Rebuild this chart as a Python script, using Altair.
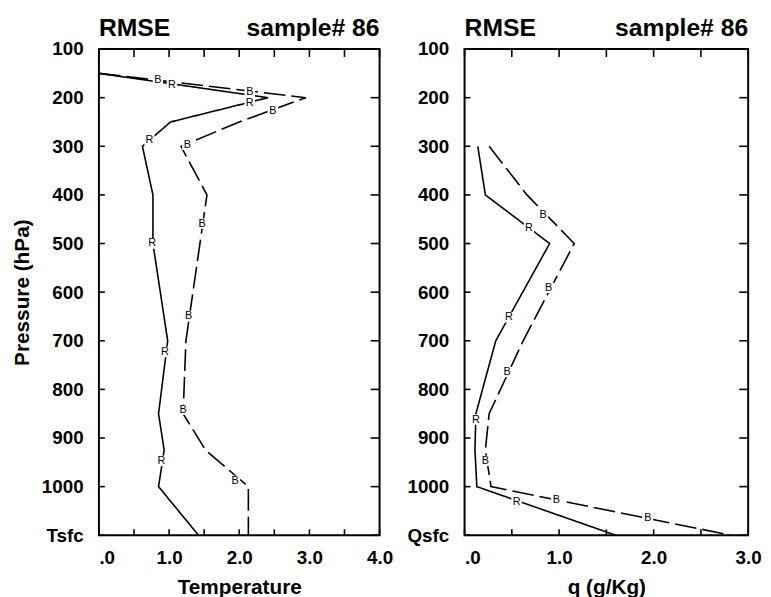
import altair as alt
import pandas as pd

# ---------------- data ----------------
levels_T = [150, 200, 250, 300, 400, 500, 700, 850, 925, 1000, 1100]
rmse_R_T = [0.00, 2.41, 1.02, 0.62, 0.77, 0.77, 0.98, 0.85, 0.93, 0.85, 1.42]
rmse_B_T = [0.00, 2.95, 2.00, 1.17, 1.54, 1.44, 1.24, 1.20, 1.52, 2.13, 2.13]

levels_q = [300, 400, 500, 700, 850, 925, 1000, 1100]
rmse_R_q = [0.14, 0.22, 0.90, 0.33, 0.12, 0.11, 0.13, 1.60]
rmse_B_q = [0.26, 0.66, 1.16, 0.62, 0.26, 0.22, 0.28, 2.82]

# letter markers along the curves (pressure, value)
lab_T_R_p = [175, 212, 287, 500, 723, 947]
lab_T_R_x = [1.04, 2.15, 0.72, 0.76, 0.94, 0.89]
lab_T_B_p = [164, 188, 227, 297, 459, 649, 842, 988]
lab_T_B_x = [0.84, 2.15, 2.48, 1.26, 1.47, 1.28, 1.20, 1.94]

lab_q_R_p = [469, 652, 862, 1032]
lab_q_R_x = [0.68, 0.47, 0.12, 0.55]
lab_q_B_p = [442, 591, 764, 947, 1028, 1065]
lab_q_B_x = [0.83, 0.89, 0.45, 0.22, 0.97, 1.94]

# axis ticks
y_levels = [100, 200, 300, 400, 500, 600, 700, 800, 900, 1000, 1100]
x_ticks_T = [0.0, 0.5, 1.0, 1.5, 2.0, 2.5, 3.0, 3.5, 4.0]
x_ticks_q = [0.0, 0.5, 1.0, 1.5, 2.0, 2.5, 3.0]

FONT = "Liberation Sans"
HEIGHT = 492


def lines_df(levels, r, b):
    rows = [{"level": l, "value": v, "series": "R"} for l, v in zip(levels, r)]
    rows += [{"level": l, "value": v, "series": "B"} for l, v in zip(levels, b)]
    return pd.DataFrame(rows)


def labels_df(rp, rx, bp, bx):
    rows = [{"level": l, "value": v, "series": "R"} for l, v in zip(rp, rx)]
    rows += [{"level": l, "value": v, "series": "B"} for l, v in zip(bp, bx)]
    return pd.DataFrame(rows)


def panel(df, lab, xmax, xticks, xtitle, sfc_name, ytitle, width):
    xs = alt.Scale(domain=[0, xmax], nice=False, zero=False)
    ys = alt.Scale(domain=[100, 1100], reverse=True, nice=False, zero=False)
    x_expr = ("datum.value % 1 != 0 ? '' : "
              "(datum.value == 0 ? '.0' : format(datum.value, '.1f'))")
    y_expr = "datum.value == 1100 ? '%s' : datum.value" % sfc_name

    x_bottom = alt.Axis(orient="bottom", values=xticks, labelExpr=x_expr,
                        ticks=False, labelPadding=14,
                        labelFlush=False, labelOverlap=False,
                        labelAlign={"condition": {"test": "datum.value == 0", "value": "left"},
                                    "value": "center"},
                        title=xtitle, titlePadding=9)
    y_left_kw = dict(orient="left", values=y_levels, labelExpr=y_expr,
                     ticks=False, labelPadding=16, labelOverlap=False)
    if ytitle:
        y_left = alt.Axis(title=ytitle, titlePadding=9, **y_left_kw)
    else:
        y_left = alt.Axis(title=None, **y_left_kw)

    lines = alt.Chart(df).mark_line(color="black", strokeWidth=1.6).encode(
        x=alt.X("value:Q", scale=xs, axis=x_bottom),
        y=alt.Y("level:Q", scale=ys, axis=y_left),
        detail="series:N",
        strokeDash=alt.StrokeDash("series:N",
                                  scale=alt.Scale(domain=["R", "B"], range=[[1, 0], [22, 6]]),
                                  legend=None),
        order="level:Q",
    )
    boxes = alt.Chart(lab).mark_square(size=110, color="white", opacity=1, filled=True).encode(
        x=alt.X("value:Q", scale=xs, axis=None),
        y=alt.Y("level:Q", scale=ys, axis=None),
    )
    letters = alt.Chart(lab).mark_text(font=FONT, fontSize=11, color="black").encode(
        x=alt.X("value:Q", scale=xs, axis=None),
        y=alt.Y("level:Q", scale=ys, axis=None),
        text="series:N",
    )

    xt = pd.DataFrame({"v": xticks})
    yt = pd.DataFrame({"lv": y_levels})
    tick_style = dict(color="black", strokeWidth=1.6)
    t_bottom = alt.Chart(xt).mark_rule(**tick_style).encode(
        x=alt.X("v:Q", scale=xs, axis=None),
        y=alt.value(HEIGHT - 6), y2=alt.value(HEIGHT))
    t_top = alt.Chart(xt).mark_rule(**tick_style).encode(
        x=alt.X("v:Q", scale=xs, axis=None),
        y=alt.value(0), y2=alt.value(8))
    t_left = alt.Chart(yt).mark_rule(**tick_style).encode(
        y=alt.Y("lv:Q", scale=ys, axis=None),
        x=alt.value(0), x2=alt.value(6))
    t_right = alt.Chart(yt).mark_rule(**tick_style).encode(
        y=alt.Y("lv:Q", scale=ys, axis=None),
        x=alt.value(width - 9), x2=alt.value(width))

    t1 = alt.Chart(pd.DataFrame({"t": ["RMSE"]})).mark_text(
        align="left", baseline="alphabetic", font=FONT, fontSize=25,
        fontWeight="bold", color="black").encode(
        x=alt.value(0), y=alt.value(-13), text="t:N")
    t2 = alt.Chart(pd.DataFrame({"t": ["sample# 86"]})).mark_text(
        align="right", baseline="alphabetic", font=FONT, fontSize=25,
        fontWeight="bold", color="black").encode(
        x=alt.value(width), y=alt.value(-13), text="t:N")
    return alt.layer(lines, boxes, letters, t_bottom, t_top, t_left, t_right,
                     t1, t2).resolve_axis(x="independent", y="independent").properties(
        width=width, height=HEIGHT)


left = panel(lines_df(levels_T, rmse_R_T, rmse_B_T),
             labels_df(lab_T_R_p, lab_T_R_x, lab_T_B_p, lab_T_B_x),
             4, x_ticks_T, "Temperature", "Tsfc", "Pressure (hPa)", 284)
right = panel(lines_df(levels_q, rmse_R_q, rmse_B_q),
              labels_df(lab_q_R_p, lab_q_R_x, lab_q_B_p, lab_q_B_x),
              3, x_ticks_q, "q (g/Kg)", "Qsfc", None, 287)

chart = alt.hconcat(left, right, spacing=11).configure_view(
    stroke="black", strokeWidth=2
).configure_axis(
    labelFont=FONT, labelFontSize=19, labelFontWeight="bold", labelColor="black",
    titleFont=FONT, titleFontSize=21, titleFontWeight="bold", titleColor="black",
    domain=False, grid=False,
).properties(
    padding={"left": 2, "top": 4, "right": 0, "bottom": 0},
    background="white",
)

chart.save("out.html", embed_options={"renderer": "svg", "actions": False})
